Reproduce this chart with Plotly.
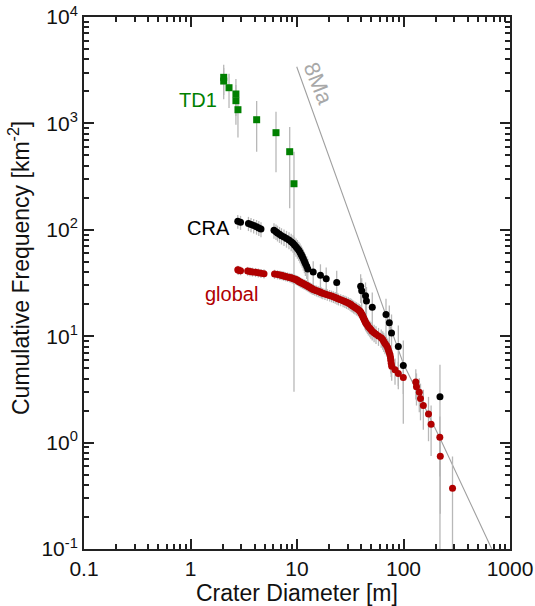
import plotly.graph_objects as go

# ---- crater size-frequency data (diameter in m, cumulative frequency in km^-2) ----
td1_d = [2.05, 2.05, 2.30, 2.67, 2.67, 2.79, 4.18, 6.35, 8.54, 9.37]
td1_f = [2710, 2500, 2165, 1890, 1635, 1345, 1083, 818, 542, 271]
td1_err_hi = [857, 813, 767, 718, 665, 606, 542, 470, 383, 271]
td1_err_lo = [857, 813, 767, 718, 665, 606, 542, 470, 383, 268]

cra_d = [2.78, 2.95, 3.50, 3.70, 3.92, 4.17, 4.38, 4.59, 6.08, 6.35,
         6.56, 6.85, 7.15, 7.55, 7.97, 8.41, 8.82, 9.17, 9.47, 9.79,
         10.09, 10.40, 10.67, 10.95, 11.19, 11.46, 11.74, 11.99, 12.34, 12.63,
         14.2, 16.6, 18.8, 23.6, 39.6, 40.5, 44.0, 44.9, 50.9, 68.5,
         73.6, 77.2, 89.4, 99.6, 220]
cra_f = [120.2, 117.5, 114.8, 112.1, 109.5, 106.8, 104.1, 101.5, 98.8, 96.1,
         93.5, 90.8, 88.1, 85.4, 82.8, 80.1, 77.4, 74.8, 72.1, 69.4,
         66.8, 64.1, 61.4, 58.7, 56.1, 53.4, 50.7, 48.1, 45.4, 42.7,
         40.1, 37.4, 34.7, 32.0, 29.4, 26.7, 24.0, 21.4, 18.7, 16.0,
         13.4, 10.7, 8.0, 5.3, 2.7]
cra_err = [17.9, 17.7, 17.5, 17.3, 17.1, 16.9, 16.7, 16.5, 16.2, 16.0,
           15.8, 15.6, 15.3, 15.1, 14.9, 14.6, 14.4, 14.1, 13.9, 13.6,
           13.4, 13.1, 12.8, 12.5, 12.2, 11.9, 11.6, 11.3, 11.0, 10.7,
           10.4, 10.0, 9.6, 9.2, 8.9, 8.4, 8.0, 7.6, 7.1, 6.5,
           6.0, 5.3, 4.6, 3.8, 2.7]

glob_d = [2.78, 2.82, 2.95, 3.44, 3.62, 3.82, 4.08, 4.33, 4.59, 4.90,
          6.15, 6.56, 6.92, 7.23, 7.50, 7.80, 8.14, 8.50, 8.78, 9.03,
          9.29, 9.58, 9.87, 10.07, 10.26, 10.44, 10.65, 10.86, 11.09, 11.36,
          11.63, 11.91, 12.20, 12.47, 12.74, 13.02, 13.30, 13.59, 13.89, 14.20,
          14.69, 15.24, 15.82, 16.44, 16.95, 17.47, 18.32, 19.25, 20.24, 21.09,
          21.97, 22.84, 23.74, 24.53, 25.73, 27.10, 28.18, 29.16, 30.32, 31.45,
          32.28, 33.06, 34.01, 35.05, 36.21, 37.40, 38.46, 39.22, 39.72, 40.16,
          40.68, 41.21, 41.57, 42.11, 42.57, 43.13, 43.60, 44.17, 45.03, 45.92,
          46.82, 48.26, 49.42, 50.83, 52.96, 55.18, 58.24, 61.74, 63.78, 65.31,
          67.03, 69.24, 70.90, 72.00, 73.41, 74.69, 75.50, 76.00, 76.66, 77.49,
          83.24, 89.38, 99.57, 130.5, 132.4, 140.7, 144.4, 153.5, 171.7, 181.6,
          219.3, 221.6, 288.5]
glob_f = [42.04, 41.66, 41.29, 40.92, 40.55, 40.18, 39.80, 39.43, 39.06, 38.69,
          38.32, 37.94, 37.57, 37.20, 36.83, 36.46, 36.08, 35.71, 35.34, 34.97,
          34.60, 34.22, 33.85, 33.48, 33.11, 32.74, 32.36, 31.99, 31.62, 31.25,
          30.88, 30.50, 30.13, 29.76, 29.39, 29.02, 28.64, 28.27, 27.90, 27.53,
          27.16, 26.78, 26.41, 26.04, 25.67, 25.30, 24.92, 24.55, 24.18, 23.81,
          23.44, 23.06, 22.69, 22.32, 21.95, 21.58, 21.20, 20.83, 20.46, 20.09,
          19.72, 19.34, 18.97, 18.60, 18.23, 17.86, 17.48, 17.11, 16.74, 16.37,
          16.00, 15.62, 15.25, 14.88, 14.51, 14.14, 13.76, 13.39, 13.02, 12.65,
          12.28, 11.90, 11.53, 11.16, 10.79, 10.42, 10.04, 9.67, 9.30, 8.93,
          8.56, 8.18, 7.81, 7.44, 7.07, 6.70, 6.32, 5.95, 5.58, 5.21,
          4.84, 4.46, 4.09, 3.72, 3.35, 2.98, 2.60, 2.23, 1.86, 1.49,
          1.12, 0.744, 0.372]
glob_err = [3.95, 3.94, 3.92, 3.90, 3.88, 3.87, 3.85, 3.83, 3.81, 3.79,
            3.78, 3.76, 3.74, 3.72, 3.70, 3.68, 3.66, 3.65, 3.63, 3.61,
            3.59, 3.57, 3.55, 3.53, 3.51, 3.49, 3.47, 3.45, 3.43, 3.41,
            3.39, 3.37, 3.35, 3.33, 3.31, 3.29, 3.26, 3.24, 3.22, 3.20,
            3.18, 3.16, 3.13, 3.11, 3.09, 3.07, 3.05, 3.02, 3.00, 2.98,
            2.95, 2.93, 2.91, 2.88, 2.86, 2.83, 2.81, 2.78, 2.76, 2.73,
            2.71, 2.68, 2.66, 2.63, 2.60, 2.58, 2.55, 2.52, 2.50, 2.47,
            2.44, 2.41, 2.38, 2.35, 2.32, 2.29, 2.26, 2.23, 2.20, 2.17,
            2.14, 2.10, 2.07, 2.04, 2.00, 1.97, 1.93, 1.90, 1.86, 1.82,
            1.78, 1.75, 1.71, 1.66, 1.62, 1.58, 1.53, 1.49, 1.44, 1.39,
            1.34, 1.29, 1.23, 1.18, 1.12, 1.05, 0.98, 0.91, 0.83, 0.74,
            0.64, 0.53, 0.37]

# 8 Ma model isochron
iso_d = [9.94, 60.2, 99.6, 220.2, 673]
iso_f = [3412, 21.9, 5.54, 1.098, 0.1007]

# ---- axis ticks ----
x_tickvals = [0.1, 1, 10, 100, 1000]
x_ticktext = ["0.1", "1", "10", "100", "1000"]
y_tickvals = [0.1, 1, 10, 100, 1000, 10000]
y_ticktext = ["10<sup>-1</sup>", "10<sup>0</sup>", "10<sup>1</sup>",
              "10<sup>2</sup>", "10<sup>3</sup>", "10<sup>4</sup>"]
x_minor = [m * 10 ** e for e in range(-1, 3) for m in range(2, 10)]
y_minor = [m * 10 ** e for e in range(-1, 4) for m in range(2, 10)]

FONT = "Liberation Sans, Arial, Helvetica, sans-serif"
GREEN = "#008000"
RED = "#b00000"
BAR = "#b8b8b8"

fig = go.Figure()

# isochron
fig.add_trace(go.Scatter(x=iso_d, y=iso_f, mode="lines",
                         line=dict(color="#a0a0a0", width=1.1),
                         hoverinfo="skip", showlegend=False))

# error bars first, so all markers sit on top
def bars(x, y, hi, lo):
    return go.Scatter(
        x=x, y=y, mode="markers",
        marker=dict(size=1, color="rgba(0,0,0,0)"),
        error_y=dict(type="data", symmetric=False, array=hi, arrayminus=lo,
                     color=BAR, thickness=1.3, width=0),
        hoverinfo="skip", showlegend=False)

fig.add_trace(bars(td1_d, td1_f, td1_err_hi, td1_err_lo))
fig.add_trace(bars(glob_d, glob_f, glob_err, glob_err))
fig.add_trace(bars(cra_d, cra_f, cra_err, cra_err))

fig.add_trace(go.Scatter(x=glob_d, y=glob_f, mode="markers", name="global",
                         marker=dict(symbol="circle", size=7, color=RED),
                         showlegend=False))
fig.add_trace(go.Scatter(x=cra_d, y=cra_f, mode="markers", name="CRA",
                         marker=dict(symbol="circle", size=7, color="black"),
                         showlegend=False))
fig.add_trace(go.Scatter(x=td1_d, y=td1_f, mode="markers", name="TD1",
                         marker=dict(symbol="square", size=7, color=GREEN),
                         showlegend=False))

axis_common = dict(
    type="log", showgrid=False, zeroline=False, automargin=False,
    showline=True, linecolor="#222222", linewidth=2, mirror="allticks",
    ticks="inside", ticklen=10, tickwidth=1.5, tickcolor="#222222",
    tickfont=dict(family=FONT, size=21, color="#111111"),
    tickmode="array",
)

fig.update_xaxes(**axis_common, range=[-1, 3],
                 tickvals=x_tickvals, ticktext=x_ticktext,
                 minor=dict(ticks="inside", ticklen=5, tickwidth=1.5,
                            tickcolor="#222222", tickmode="array",
                            tickvals=x_minor, showgrid=False))
fig.update_yaxes(**axis_common, range=[-1, 4],
                 tickvals=y_tickvals, ticktext=y_ticktext,
                 minor=dict(ticks="inside", ticklen=5, tickwidth=1.5,
                            tickcolor="#222222", tickmode="array",
                            tickvals=y_minor, showgrid=False))

def px_x(px):
    return (px - 84) / 426.0

def px_y(py):
    return (549 - py) / 532.0

annos = [
    dict(text="TD1", x=px_x(198), y=px_y(99.5), font=dict(color=GREEN, size=20)),
    dict(text="CRA", x=px_x(208.3), y=px_y(227.5), font=dict(color="black", size=20)),
    dict(text="global", x=px_x(231.3), y=px_y(294), font=dict(color=RED, size=20)),
    dict(text="8Ma", x=px_x(318), y=px_y(84), textangle=68,
         font=dict(color="#a8a8a8", size=22)),
    dict(text="Crater Diameter [m]", x=0.5, y=px_y(593), font=dict(color="#111111", size=23)),
    dict(text="Cumulative Frequency [km<sup>-2</sup>]", x=px_x(19), y=px_y(268),
         textangle=-90, font=dict(color="#111111", size=23)),
]
for a in annos:
    a["font"]["family"] = FONT
    fig.add_annotation(xref="paper", yref="paper", showarrow=False,
                       xanchor="center", yanchor="middle", **a)

fig.update_layout(
    width=535, height=606,
    margin=dict(l=84, r=25, t=17, b=57),
    paper_bgcolor="white", plot_bgcolor="white",
    font=dict(family=FONT),
)

fig.write_html("out.html")
